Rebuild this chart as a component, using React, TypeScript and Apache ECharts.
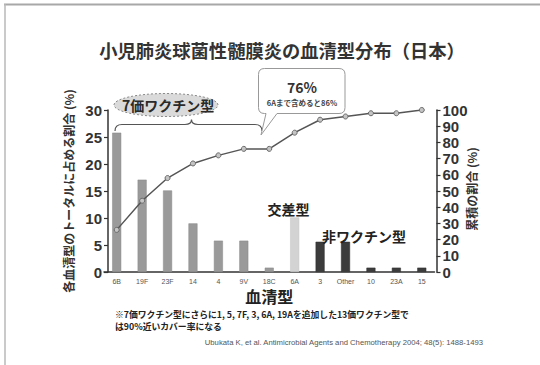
import React, { useEffect, useRef } from 'react';
import * as echarts from 'echarts';

// Serotype distribution of pediatric pneumococcal meningitis (Japan)
const serotypes = ['6B', '19F', '23F', '14', '4', '9V', '18C', '6A', '3', 'Other', '10', '23A', '15'];
const sharePercent = [25.8, 17.1, 15.1, 9.0, 5.8, 5.8, 0.8, 10.1, 5.6, 5.6, 0.8, 0.8, 0.8];
const cumulativePercent = [26, 44, 58, 67, 72, 76, 76, 86, 94, 96, 98, 98, 100];
const serotypeGroup = ['pcv7', 'pcv7', 'pcv7', 'pcv7', 'pcv7', 'pcv7', 'pcv7', 'cross', 'non', 'non', 'non', 'non', 'non'];
const leftAxisMax = 30;
const leftAxisStep = 5;
const rightAxisMax = 100;
const rightAxisStep = 10;

const titleText = '小児肺炎球菌性髄膜炎の血清型分布（日本）';
const leftAxisName = '各血清型のトータルに占める割合 (%)';
const rightAxisName = '累積の割合 (%)';
const xAxisName = '血清型';
const pcv7Label = '7価ワクチン型';
const crossLabel = '交差型';
const nonVaccineLabel = '非ワクチン型';
const calloutMain = '76%';
const calloutSub = '6Aまで含めると86%';
const footnoteLines = [
  '※7価ワクチン型にさらに1, 5, 7F, 3, 6A, 19Aを追加した13価ワクチン型で',
  'は90%近いカバー率になる',
];
const citation = 'Ubukata K, et al. Antimicrobial Agents and Chemotherapy 2004; 48(5): 1488-1493';

const JP = '"Noto Sans CJK JP", "Noto Sans", sans-serif';
const LATIN = '"Liberation Sans", Arial, sans-serif';

const groupStyle: Record<string, any> = {
  pcv7: { color: '#9a9a9a', borderColor: '#888', borderWidth: 0.5 },
  cross: { color: '#d3d3d3', borderColor: '#c4c4c4', borderWidth: 0.5 },
  non: { color: '#3c3c3c', borderColor: '#2e2e2e', borderWidth: 0.5 },
};

// curly brace spanning the 7-valent serotypes
const BracePath = echarts.graphic.extendPath(
  'M115,131 Q115,124.5 122,124.5 L185,124.5 Q191.5,124.5 191.5,119.5 Q191.5,124.5 198,124.5 L255,124.5 Q262,124.5 262,131',
  {}
);
echarts.graphic.registerShape('braceMark', BracePath);

// speech bubble with tail pointing at 18C
const BubblePath = echarts.graphic.extendPath(
  'M264.5,68.5 L339,68.5 Q345,68.5 345,74.5 L345,107.5 Q345,113.5 339,113.5 L277,113.5 L261,135 L266,113.5 L264.5,113.5 Q258.5,113.5 258.5,107.5 L258.5,74.5 Q258.5,68.5 264.5,68.5 Z',
  {}
);
echarts.graphic.registerShape('calloutBubble', BubblePath);

export default function App() {
  const ref = useRef<HTMLDivElement>(null);

  useEffect(() => {
    document.body.style.margin = '0';
    if (!ref.current) return;
    const chart = echarts.init(ref.current, undefined, { renderer: 'svg' });

    const option: any = {
      animation: false,
      backgroundColor: '#ffffff',
      textStyle: { fontFamily: JP },
      grid: { left: 104, top: 110, width: 330.5, height: 162 },
      xAxis: {
        type: 'category',
        data: serotypes,
        axisLine: { lineStyle: { color: '#333', width: 1.5 } },
        axisTick: { show: false },
        axisLabel: { fontSize: 7, color: '#555', margin: 5, interval: 0, fontFamily: LATIN, lineHeight: 8 },
        name: xAxisName,
        nameLocation: 'middle',
        nameGap: 16,
        nameTextStyle: { fontSize: 16, fontWeight: 'bold', color: '#222', fontFamily: JP, lineHeight: 16 },
      },
      yAxis: [
        {
          type: 'value',
          position: 'left',
          min: 0,
          max: leftAxisMax,
          interval: leftAxisStep,
          offset: -4,
          splitLine: { show: false },
          axisLine: { show: true, lineStyle: { color: '#333', width: 1.5 } },
          axisTick: { show: true, length: 4, lineStyle: { color: '#333', width: 1.2 } },
          axisLabel: { fontSize: 15, fontWeight: 'bold', color: '#333', margin: 6, fontFamily: LATIN },
          name: leftAxisName,
          nameLocation: 'middle',
          nameRotate: 90,
          nameGap: 26,
          nameTextStyle: { fontSize: 12, fontWeight: 'bold', color: '#333', fontFamily: JP },
        },
        {
          type: 'value',
          position: 'right',
          min: 0,
          max: rightAxisMax,
          interval: rightAxisStep,
          offset: 2,
          splitLine: { show: false },
          axisLine: { show: true, lineStyle: { color: '#333', width: 1.5 } },
          axisTick: { show: true, length: 4, lineStyle: { color: '#333', width: 1.2 } },
          axisLabel: { fontSize: 15, fontWeight: 'bold', color: '#333', margin: 6, fontFamily: LATIN },
        },
      ],
      series: [
        {
          type: 'bar',
          yAxisIndex: 0,
          barWidth: 9,
          data: sharePercent.map((v, i) => ({ value: v, itemStyle: groupStyle[serotypeGroup[i]] })),
        },
        {
          type: 'line',
          yAxisIndex: 1,
          data: cumulativePercent,
          symbol: 'circle',
          symbolSize: 5,
          lineStyle: { color: '#555', width: 1.5 },
          itemStyle: { color: '#c4c4c4', borderColor: '#6a6a6a', borderWidth: 1 },
          z: 3,
        },
      ],
      graphic: [
        // frame edges
        { type: 'line', shape: { x1: 4, y1: 4.5, x2: 540, y2: 4.5 }, style: { stroke: '#a8a8a8', lineWidth: 2 } },
        { type: 'line', shape: { x1: 5, y1: 4, x2: 5, y2: 365 }, style: { stroke: '#b8b8b8', lineWidth: 1.5 } },
        {
          type: 'text',
          x: 282,
          y: 49.5,
          style: { text: titleText, fontSize: 18.3, fontWeight: 'bold', fill: '#333', fontFamily: JP, align: 'center', verticalAlign: 'middle' },
        },
        // right axis title, reading bottom to top
        {
          type: 'text',
          x: 471,
          y: 189,
          rotation: Math.PI / 2,
          style: { text: rightAxisName, fontSize: 12, fontWeight: 'bold', fill: '#333', fontFamily: JP, align: 'center', verticalAlign: 'middle' },
        },
        {
          type: 'ellipse',
          shape: { cx: 166, cy: 105, rx: 52, ry: 11.5 },
          style: { fill: '#dadada', stroke: '#8a8a8a', lineWidth: 1, lineDash: [2, 2] },
          z: 10,
        },
        {
          type: 'text',
          x: 168,
          y: 105,
          z: 11,
          style: { text: pcv7Label, fontSize: 14, fontWeight: 'bold', fill: '#2a2a2a', fontFamily: JP, align: 'center', verticalAlign: 'middle' },
        },
        { type: 'braceMark', x: 0, y: 0, z: 10, style: { fill: 'none', stroke: '#555', lineWidth: 1.2 } },
        { type: 'calloutBubble', x: 0, y: 0, z: 10, style: { fill: '#ffffff', stroke: '#999', lineWidth: 1 } },
        {
          type: 'text',
          x: 302,
          y: 86.5,
          z: 11,
          style: { text: calloutMain, fontSize: 14, fontWeight: 'bold', fill: '#333', fontFamily: JP, align: 'center', verticalAlign: 'middle', lineHeight: 14 },
        },
        {
          type: 'text',
          x: 302,
          y: 102,
          z: 11,
          style: { text: calloutSub, fontSize: 7.5, fontWeight: 'bold', fill: '#444', fontFamily: JP, align: 'center', verticalAlign: 'middle', lineHeight: 8 },
        },
        {
          type: 'text',
          x: 288.5,
          y: 209,
          z: 11,
          style: { text: crossLabel, fontSize: 14, fontWeight: 'bold', fill: '#222', fontFamily: JP, align: 'center', verticalAlign: 'middle' },
        },
        {
          type: 'text',
          x: 364,
          y: 236,
          z: 11,
          style: { text: nonVaccineLabel, fontSize: 14, fontWeight: 'bold', fill: '#222', fontFamily: JP, align: 'center', verticalAlign: 'middle' },
        },
        ...footnoteLines.map((line, i) => ({
          type: 'text',
          x: 115,
          y: 314.5 + i * 11.5,
          style: {
            text: line,
            fontSize: 8.8,
            lineHeight: 10,
            fontWeight: 'bold',
            fill: '#222',
            fontFamily: JP,
            align: 'left',
            verticalAlign: 'middle',
          },
        })),
        {
          type: 'text',
          x: 483,
          y: 342,
          style: { text: citation, fontSize: 7.7, fill: '#555', fontFamily: LATIN, align: 'right', verticalAlign: 'middle' },
        },
      ],
    };

    chart.setOption(option);
    return () => chart.dispose();
  }, []);

  return <div ref={ref} style={{ width: 540, height: 365 }} />;
}
